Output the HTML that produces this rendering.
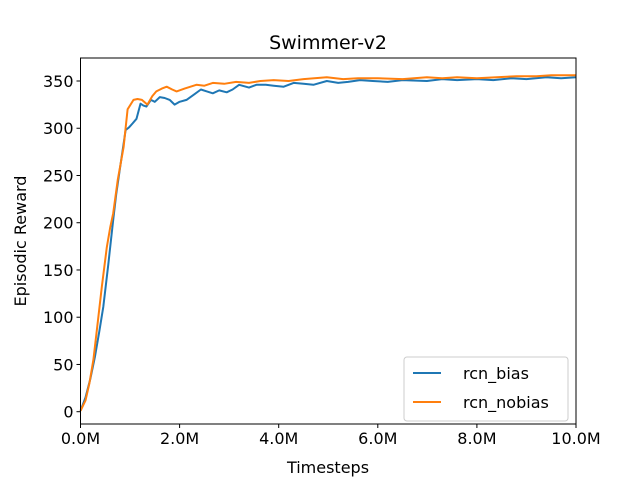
<!DOCTYPE html>
<html><head><meta charset="utf-8"><style>
body{margin:0;background:#fff;}
text{font-family:"DejaVu Sans","Liberation Sans",sans-serif;}
</style></head><body>
<svg id="chart" width="640" height="480" style="display:block">
<rect width="640" height="480" fill="#fff"/>
<g id="plot"></g>
<text x="328" y="49" text-anchor="middle" font-size="19">Swimmer-v2</text>
<text x="328" y="473" text-anchor="middle" font-size="16">Timesteps</text>
<text x="26" y="241" text-anchor="middle" font-size="16" transform="rotate(-90 26 241)">Episodic Reward</text>
<g>
<rect x="404" y="357" width="164" height="64" rx="3" fill="#fff" fill-opacity="0.8" stroke="#ccc"/>
<line x1="413" x2="441" y1="373" y2="373" stroke="#1f77b4" stroke-width="2"/>
<text x="463" y="379" font-size="16">rcn_bias</text>
<line x1="413" x2="441" y1="402" y2="402" stroke="#ff7f0e" stroke-width="2"/>
<text x="463" y="408" font-size="16">rcn_nobias</text>
</g>
</svg>
<script>
const xTicks=[0,2,4,6,8,10];
const xTickLabels=["0.0M","2.0M","4.0M","6.0M","8.0M","10.0M"];
const yTicks=[0,50,100,150,200,250,300,350];
const biasX=[0,0.1,0.2,0.29,0.38,0.46,0.56,0.66,0.72,0.79,0.86,0.91,0.98,1.05,1.13,1.21,1.27,1.33,1.42,1.5,1.6,1.7,1.8,1.9,2.0,2.14,2.3,2.43,2.55,2.67,2.8,2.95,3.07,3.2,3.4,3.55,3.74,3.9,4.1,4.3,4.5,4.7,4.97,5.2,5.4,5.64,5.9,6.2,6.5,6.99,7.3,7.6,8.0,8.33,8.7,9.0,9.4,9.7,10];
const biasY=[1,15,35,58,85,111,155,203,230,255,280,298,301,305,310,326,324,323,330,328,333,332,330,325,328,330,336,341,339,337,340,338,341,346,343,346,346,345,344,348,347,346,350,348,349,351,350,349,351,350,352,351,352,351,353,352,354,353,354];
const nobX=[0,0.1,0.18,0.26,0.35,0.43,0.53,0.6,0.66,0.75,0.87,0.95,1.07,1.15,1.24,1.35,1.45,1.53,1.64,1.74,1.85,1.94,2.1,2.34,2.5,2.67,2.9,3.14,3.4,3.63,3.9,4.2,4.5,4.97,5.3,5.6,6.0,6.5,6.99,7.3,7.6,8.0,8.4,8.8,9.2,9.5,9.94,10];
const nobY=[1,12,30,55,95,132,174,195,210,245,280,320,330,331,330,325,334,339,342,344,341,339,342,346,345,348,347,349,348,350,351,350,352,354,352,353,353,352,354,353,354,353,354,355,355,356,356,356];
const svg=document.getElementById('plot');
const NS='http://www.w3.org/2000/svg';
const L=80.5,R=576,T=58,B=424;
const xs=v=>L+(v-0)/(10)*(R-L);
const ys=v=>411.7-v*(330.7/350);
function mk(tag,attrs,parent){const e=document.createElementNS(NS,tag);for(const k in attrs)e.setAttribute(k,attrs[k]);(parent||svg).appendChild(e);return e;}
function line(xa,ya,color,name){
 const p=mk('path',{d:xa.map((x,i)=>(i?'L':'M')+xs(x).toFixed(1)+','+ys(ya[i]).toFixed(1)).join(''),fill:'none',stroke:color,'stroke-width':2,'stroke-linejoin':'round'});
 
 
}
line(biasX,biasY,'#1f77b4','series-rcn-bias');
line(nobX,nobY,'#ff7f0e','series-rcn-nobias');
const fr=mk('rect',{x:L,y:T,width:R-L,height:B-T,fill:'none',stroke:'#000','stroke-width':1});


xTicks.forEach((v,i)=>{
 mk('line',{x1:xs(v),x2:xs(v),y1:B,y2:B+4,stroke:'#000'});
 const t=mk('text',{x:xs(v),y:B+20,'text-anchor':'middle','font-size':16});
 t.textContent=xTickLabels[i];
 
 
});
yTicks.forEach(v=>{
 mk('line',{x1:L-4,x2:L,y1:ys(v),y2:ys(v),stroke:'#000'});
 const t=mk('text',{x:L-7,y:ys(v)+6,'text-anchor':'end','font-size':16});
 t.textContent=v;
 
 
});
</script>
</body></html>
